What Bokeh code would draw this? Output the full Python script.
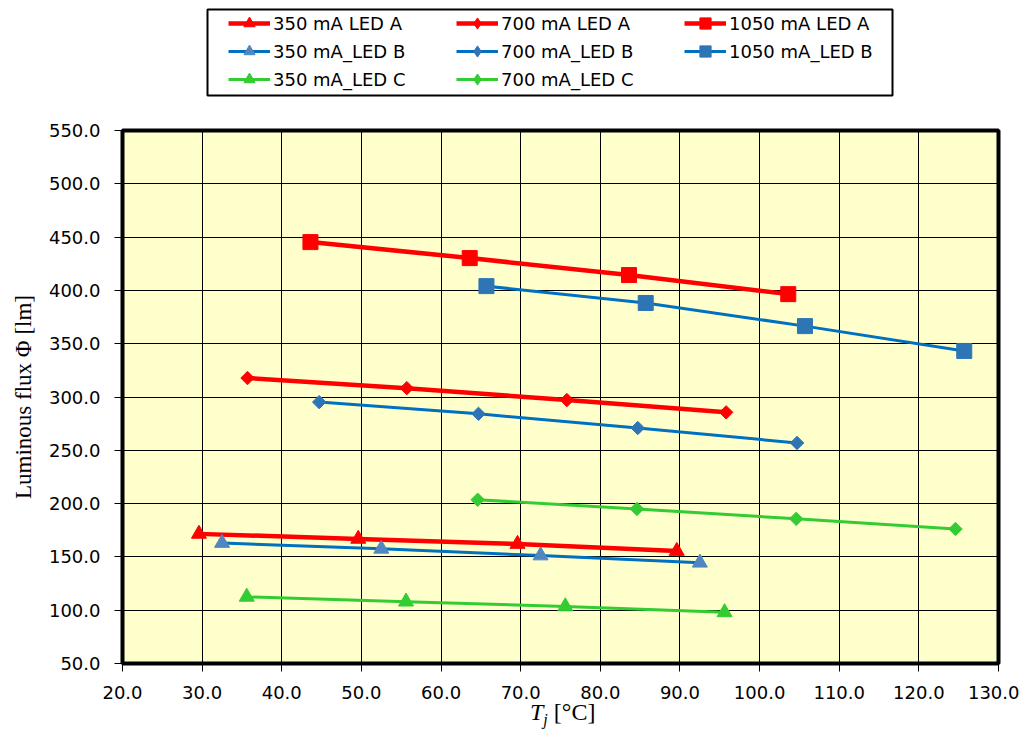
import numpy as np
from bokeh.plotting import figure
from bokeh.layouts import column
from bokeh.models import (Legend, LegendItem, Div, Range1d, FixedTicker,
                          NumeralTickFormatter, BoxAnnotation)
from bokeh.embed import file_html
from bokeh.resources import INLINE

# ---- data (junction temperature Tj [°C], luminous flux [lm]) ----
tj_350_A = [29.6, 49.6, 69.6, 89.6]
phi_350_A = [171.6, 166.9, 162.1, 155.5]
tj_350_B = [32.5, 52.5, 72.5, 92.5]
phi_350_B = [163.0, 157.6, 151.3, 144.5]
tj_350_C = [35.6, 55.6, 75.6, 95.6]
phi_350_C = [112.5, 108.0, 103.5, 98.0]
tj_700_A = [35.7, 55.7, 75.8, 95.8]
phi_700_A = [317.8, 308.3, 297.1, 285.6]
tj_700_B = [44.7, 64.7, 84.7, 104.7]
phi_700_B = [295.2, 284.2, 270.9, 256.9]
tj_700_C = [64.6, 84.6, 104.6, 124.6]
phi_700_C = [203.6, 195.0, 185.7, 176.2]
tj_1050_A = [43.6, 63.6, 83.6, 103.6]
phi_1050_A = [445.3, 430.3, 414.4, 396.5]
tj_1050_B = [65.7, 85.7, 105.7, 125.7]
phi_1050_B = [404.0, 388.2, 366.5, 343.2]

series_names = ["350 mA LED A", "700 mA LED A", "1050 mA LED A",
                "350 mA_LED B", "700 mA_LED B", "1050 mA_LED B",
                "350 mA_LED C", "700 mA_LED C"]
# legend fills column by column -> order that gives the reference's rows
legend_order = ["350 mA LED A", "350 mA_LED B", "350 mA_LED C",
                "700 mA LED A", "700 mA_LED B", "700 mA_LED C",
                "1050 mA LED A", "1050 mA_LED B"]

x_ticks = [20, 30, 40, 50, 60, 70, 80, 90, 100, 110, 120, 130]
y_ticks = [50, 100, 150, 200, 250, 300, 350, 400, 450, 500, 550]

RED = "#FF0000"
BLUE_LINE = "#0070C0"
BLUE_MARK = "#2E75B6"
BLUE_TRI = "#5087C2"
GREEN = "#33CC33"
DIAM = np.pi / 4

# style of each series: (line colour, line width, marker, size, fill, angle)
styles = {
    "350 mA LED A": (RED, 4.5, "triangle", 15, RED, 0.0),
    "700 mA LED A": (RED, 4.5, "square", 9.5, RED, DIAM),
    "1050 mA LED A": (RED, 4.5, "square", 15, RED, 0.0),
    "350 mA_LED B": (BLUE_LINE, 3, "triangle", 15, BLUE_TRI, 0.0),
    "700 mA_LED B": (BLUE_LINE, 3, "square", 9.5, BLUE_MARK, DIAM),
    "1050 mA_LED B": (BLUE_LINE, 3, "square", 15, BLUE_MARK, 0.0),
    "350 mA_LED C": (GREEN, 3, "triangle", 15, GREEN, 0.0),
    "700 mA_LED C": (GREEN, 3, "square", 9.5, GREEN, DIAM),
}

data = {
    "350 mA LED A": (tj_350_A, phi_350_A),
    "700 mA LED A": (tj_700_A, phi_700_A),
    "1050 mA LED A": (tj_1050_A, phi_1050_A),
    "350 mA_LED B": (tj_350_B, phi_350_B),
    "700 mA_LED B": (tj_700_B, phi_700_B),
    "1050 mA_LED B": (tj_1050_B, phi_1050_B),
    "350 mA_LED C": (tj_350_C, phi_350_C),
    "700 mA_LED C": (tj_700_C, phi_700_C),
}


def add_series(fig, xs, ys, st, for_legend=False):
    lc, lw, mk, sz, fc, ang = st
    if for_legend and ang != 0.0:
        mk, ang = "diamond", 0.0   # legend samples are not rotated
    r_line = fig.line(xs, ys, line_color=lc, line_width=lw)
    r_pts = fig.scatter(xs, ys, marker=mk, size=sz, fill_color=fc,
                        line_color=fc, angle=ang)
    return [r_line, r_pts]


W = 1019
LEG_H = 118
MAIN_H = 606
BL, BR = 122, 21   # left/right borders shared by both stacked plots

# ---------------- main chart ----------------
p = figure(width=W, height=MAIN_H, output_backend="svg", toolbar_location=None,
           x_range=Range1d(20, 130), y_range=Range1d(50, 550),
           min_border_left=BL, min_border_right=BR,
           min_border_top=12, min_border_bottom=61,
           background_fill_color="#FFFFCC", border_fill_color="white")

p.outline_line_color = "black"
p.outline_line_width = 4

for ax in (p.xaxis[0], p.yaxis[0]):
    ax.axis_line_color = None
    ax.major_tick_line_color = "black"
    ax.major_tick_line_width = 1
    ax.major_tick_in = 0
    ax.major_tick_out = 8
    ax.minor_tick_line_color = None
    ax.major_label_text_font = "DejaVu Sans"
    ax.major_label_text_font_size = "18px"
    ax.major_label_text_color = "black"
    ax.formatter = NumeralTickFormatter(format="0.0")

p.xaxis[0].ticker = FixedTicker(ticks=x_ticks)
p.yaxis[0].ticker = FixedTicker(ticks=y_ticks)
p.xaxis[0].major_label_standoff = 14
p.yaxis[0].major_label_standoff = 14

p.yaxis[0].axis_label = "Luminous flux \u03a6 [lm]"
p.yaxis[0].axis_label_text_font = "Liberation Serif"
p.yaxis[0].axis_label_text_font_style = "normal"
p.yaxis[0].axis_label_text_font_size = "23px"
p.yaxis[0].axis_label_text_color = "black"
p.yaxis[0].axis_label_standoff = 10

for g in (p.xgrid[0], p.ygrid[0]):
    g.grid_line_color = "black"
    g.grid_line_width = 1
p.xgrid[0].ticker = FixedTicker(ticks=x_ticks)
p.ygrid[0].ticker = FixedTicker(ticks=y_ticks)

for n in series_names:
    xs, ys = data[n]
    add_series(p, xs, ys, styles[n])

# ---------------- legend strip above the chart ----------------
# the series are drawn off-range here, so only their legend samples show
pl = figure(width=W, height=LEG_H, output_backend="svg", toolbar_location=None,
            x_range=Range1d(1000, 1001), y_range=Range1d(1000, 1001),
            x_axis_type=None, y_axis_type=None,
            min_border_left=BL, min_border_right=BR,
            min_border_top=5, min_border_bottom=LEG_H - 99,
            background_fill_color="white", border_fill_color="white")
pl.outline_line_color = None
pl.grid.visible = False

rl = {}
for n in series_names:
    xs, ys = data[n]
    rl[n] = add_series(pl, xs, ys, styles[n], for_legend=True)

# legend frame box (pixels from the strip's plotting area bottom-left)
pl.add_layout(BoxAnnotation(left=85, right=770, bottom=4, top=90,
                            left_units="screen", right_units="screen",
                            bottom_units="screen", top_units="screen",
                            fill_color=None, fill_alpha=0.0,
                            line_color="black", line_alpha=1.0, line_width=2))

legend = Legend(items=[LegendItem(label=n, renderers=rl[n]) for n in legend_order],
                ncols=3, location=(106, 6),
                label_text_font="DejaVu Sans", label_text_font_size="18px",
                label_text_color="black",
                glyph_width=42, glyph_height=28, label_standoff=3,
                label_width=183, spacing=0, padding=0, margin=0,
                border_line_color=None,
                background_fill_color="white", background_fill_alpha=0.0)
pl.add_layout(legend, "center")

# ---------------- x-axis title: italic T with subscript j, then [°C] ----------------
xlabel = Div(
    text=('<span style="font-family: \'Liberation Serif\'; font-size: 24px; '
          'color: black; white-space: nowrap; line-height: 24px;">'
          '<i>T</i><sub style="font-size: 16px; vertical-align: -5px;"><i>j</i></sub>'
          '&nbsp;[\u00b0C]</span>'),
    width=110, height=24, margin=(-24, 0, 0, 530))

layout = column(pl, p, xlabel, spacing=0)
open("out.html", "w").write(file_html(layout, INLINE))
